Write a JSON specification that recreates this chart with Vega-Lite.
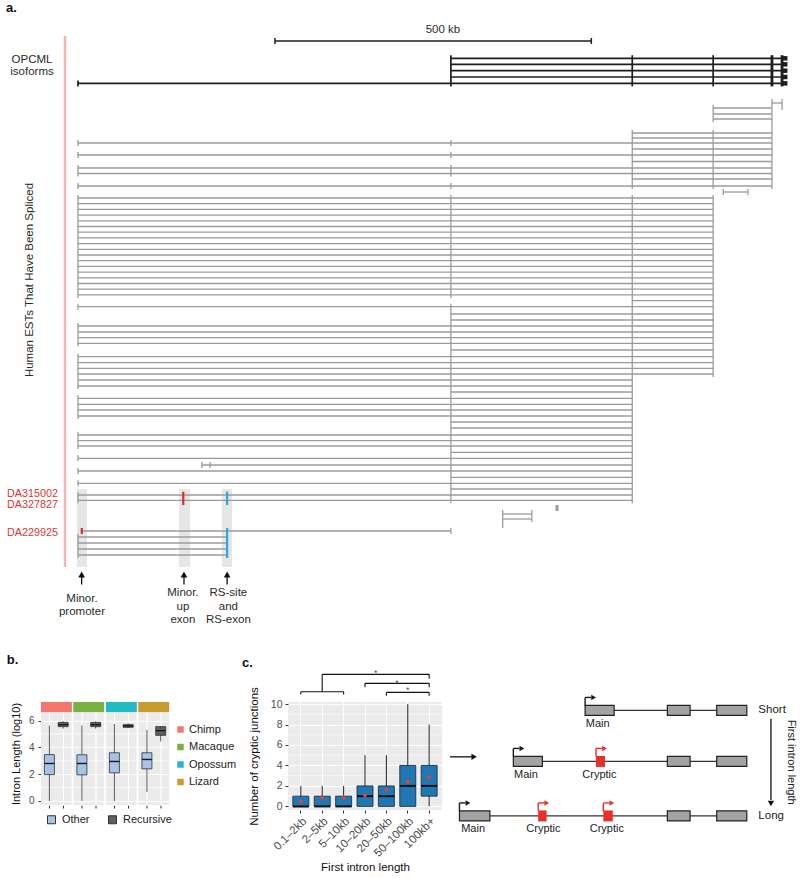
{
 "$schema": "https://vega.github.io/schema/vega-lite/v6.json",
 "padding": 0,
 "background": "#ffffff",
 "bounds": "flush",
 "spacing": 0,
 "config": {"font": "Liberation Sans", "view": {"stroke": null}},
 "resolve": {"scale": {"color": "independent", "fill": "independent"}, "legend": {"color": "independent", "fill": "independent"}},
 "datasets": {
  "shade": [{"x": -1.6, "x2": 14.2, "t": 81.5, "t2": 94.5}, {"x": 159.8, "x2": 177.2, "t": 81.5, "t2": 94.5}, {"x": 227.8, "x2": 243.7, "t": 81.5, "t2": 94.5}],
  "pink": [{"x": -20.6, "t": 6, "t2": 94.5}],
  "estH": [
   {"x": 1098, "x2": 1114, "t": 17.17}, {"x": 1005, "x2": 1098, "t": 18.0}, {"x": 1005, "x2": 1098, "t": 19.0}, {"x": 1005, "x2": 1098, "t": 19.83},
   {"x": 877, "x2": 1098, "t": 22.17}, {"x": 877, "x2": 1098, "t": 23.0}, {"x": 0, "x2": 1098, "t": 23.83}, {"x": 877, "x2": 1098, "t": 24.83},
   {"x": 0, "x2": 1098, "t": 25.83}, {"x": 877, "x2": 1098, "t": 26.92}, {"x": 0, "x2": 1098, "t": 28.0}, {"x": 0, "x2": 1098, "t": 28.92},
   {"x": 877, "x2": 1098, "t": 29.83}, {"x": 0, "x2": 1098, "t": 31.0}, {"x": 1021, "x2": 1060, "t": 32.0},
   {"x": 0, "x2": 1005, "t": 33.0}, {"x": 0, "x2": 1005, "t": 33.95}, {"x": 0, "x2": 1005, "t": 34.9}, {"x": 0, "x2": 1005, "t": 35.85},
   {"x": 0, "x2": 1005, "t": 36.8}, {"x": 0, "x2": 1005, "t": 37.75}, {"x": 0, "x2": 1005, "t": 38.7}, {"x": 0, "x2": 1005, "t": 39.65},
   {"x": 0, "x2": 1005, "t": 40.6}, {"x": 0, "x2": 1005, "t": 41.55}, {"x": 0, "x2": 1005, "t": 42.5}, {"x": 0, "x2": 1005, "t": 43.45},
   {"x": 0, "x2": 1005, "t": 44.4}, {"x": 0, "x2": 1005, "t": 45.35}, {"x": 0, "x2": 1005, "t": 46.3}, {"x": 0, "x2": 1005, "t": 47.25},
   {"x": 0, "x2": 1005, "t": 48.2}, {"x": 0, "x2": 1005, "t": 49.15},
   {"x": 877, "x2": 1005, "t": 50.12}, {"x": 0, "x2": 1005, "t": 51.12}, {"x": 590, "x2": 1005, "t": 52.33}, {"x": 590, "x2": 1005, "t": 53.33},
   {"x": 0, "x2": 1005, "t": 54.33}, {"x": 0, "x2": 1005, "t": 55.33}, {"x": 0, "x2": 1005, "t": 56.28}, {"x": 0, "x2": 1005, "t": 57.22},
   {"x": 590, "x2": 1005, "t": 58.33},
   {"x": 0, "x2": 1005, "t": 59.45}, {"x": 0, "x2": 1005, "t": 60.45}, {"x": 0, "x2": 1005, "t": 61.38}, {"x": 0, "x2": 1005, "t": 62.33},
   {"x": 0, "x2": 877, "t": 63.33}, {"x": 0, "x2": 877, "t": 64.33}, {"x": 590, "x2": 877, "t": 65.33},
   {"x": 0, "x2": 877, "t": 66.38}, {"x": 0, "x2": 877, "t": 67.38}, {"x": 0, "x2": 877, "t": 68.33}, {"x": 0, "x2": 877, "t": 69.33},
   {"x": 590, "x2": 877, "t": 70.33}, {"x": 590, "x2": 877, "t": 71.33},
   {"x": 0, "x2": 877, "t": 72.5}, {"x": 0, "x2": 877, "t": 73.45}, {"x": 0, "x2": 877, "t": 74.33},
   {"x": 590, "x2": 877, "t": 75.38}, {"x": 0, "x2": 877, "t": 76.38}, {"x": 196, "x2": 877, "t": 77.5}, {"x": 0, "x2": 877, "t": 78.5},
   {"x": 590, "x2": 877, "t": 79.55}, {"x": 0, "x2": 877, "t": 80.55}, {"x": 590, "x2": 877, "t": 81.5},
   {"x": 0, "x2": 877, "t": 82.5}, {"x": 0, "x2": 877, "t": 83.38},
   {"x": 672, "x2": 718, "t": 85.67}, {"x": 672, "x2": 718, "t": 86.5},
   {"x": 6, "x2": 590, "t": 88.5},
   {"x": 0, "x2": 236, "t": 89.5}, {"x": 0, "x2": 236, "t": 90.5}, {"x": 0, "x2": 236, "t": 91.5}, {"x": 0, "x2": 236, "t": 92.5}
  ],
  "estV": [
   {"x": 0, "t": 23.33, "t2": 24.33}, {"x": 0, "t": 25.33, "t2": 26.33}, {"x": 0, "t": 27.5, "t2": 29.42}, {"x": 0, "t": 30.5, "t2": 31.5},
   {"x": 0, "t": 32.5, "t2": 49.65}, {"x": 0, "t": 50.62, "t2": 51.62}, {"x": 0, "t": 53.83, "t2": 57.72}, {"x": 0, "t": 58.95, "t2": 64.83},
   {"x": 0, "t": 65.88, "t2": 69.83}, {"x": 0, "t": 72.0, "t2": 74.83}, {"x": 0, "t": 75.88, "t2": 76.88}, {"x": 0, "t": 78.0, "t2": 79.0},
   {"x": 0, "t": 80.05, "t2": 81.05}, {"x": 0, "t": 82.0, "t2": 83.88}, {"x": 0, "t": 89.0, "t2": 93.0},
   {"x": 590, "t": 23.33, "t2": 24.33}, {"x": 590, "t": 25.33, "t2": 26.33}, {"x": 590, "t": 27.5, "t2": 29.42}, {"x": 590, "t": 30.5, "t2": 31.5},
   {"x": 590, "t": 32.5, "t2": 49.65}, {"x": 590, "t": 50.62, "t2": 83.88}, {"x": 590, "t": 88.0, "t2": 89.0},
   {"x": 877, "t": 21.67, "t2": 31.5}, {"x": 877, "t": 32.5, "t2": 83.88},
   {"x": 1005, "t": 17.5, "t2": 20.33}, {"x": 1005, "t": 21.67, "t2": 31.5}, {"x": 1005, "t": 32.5, "t2": 62.83},
   {"x": 1098, "t": 16.5, "t2": 31.5}, {"x": 1114, "t": 16.5, "t2": 18.33},
   {"x": 1021, "t": 31.5, "t2": 32.5}, {"x": 1060, "t": 31.5, "t2": 32.5},
   {"x": 196, "t": 77.0, "t2": 78.0}, {"x": 209, "t": 77.0, "t2": 78.0},
   {"x": 672, "t": 85.0, "t2": 88.0}, {"x": 718, "t": 85.0, "t2": 87.0}
  ],
  "block": [{"x": 758, "t": 84.17, "t2": 85.17}],
  "tickRed": [{"x": 6, "t": 88.0, "t2": 89.0}, {"x": 166.6, "t": 81.95, "t2": 84.17}],
  "tickBlue": [{"x": 236, "t": 81.95, "t2": 84.17}, {"x": 236, "t": 88.0, "t2": 93.0}],
  "isoH": [
   {"x": 590, "x2": 1119, "t": 9.72}, {"x": 590, "x2": 1119, "t": 10.72}, {"x": 590, "x2": 1119, "t": 11.78},
   {"x": 590, "x2": 1119, "t": 12.83}, {"x": 0, "x2": 1119, "t": 13.89}
  ],
  "isoV": [{"x": 0, "t": 13.4, "t2": 14.4}, {"x": 590, "t": 9.2, "t2": 14.4}, {"x": 877, "t": 9.2, "t2": 14.4}, {"x": 1005, "t": 9.2, "t2": 14.4}],
  "isoVthick": [{"x": 1098, "t": 9.2, "t2": 14.4}, {"x": 1114, "t": 9.2, "t2": 14.4}],
  "isoEnd": [{"x": 1119, "t": 9.72}, {"x": 1119, "t": 10.72}, {"x": 1119, "t": 11.78}, {"x": 1119, "t": 12.83}, {"x": 1119, "t": 13.89}],
  "scaleH": [{"x": 311.7, "x2": 812.2, "t": 6.83}],
  "scaleV": [{"x": 311.7, "t": 6.33, "t2": 7.33}, {"x": 812.2, "t": 6.33, "t2": 7.33}],
  "arrowShaft": [{"x": 5.8, "t": 96.1, "t2": 97.4}, {"x": 167.7, "t": 96.1, "t2": 97.4}, {"x": 236, "t": 96.1, "t2": 97.4}],
  "arrowHead": [{"x": 5.8, "t": 95.75}, {"x": 167.7, "t": 95.75}, {"x": 236, "t": 95.75}],
  "txtBold": [{"x": -114, "t": 1.25, "label": "a."}, {"x": -112.8, "t": 110, "label": "b."}, {"x": 259.5, "t": 110.55, "label": "c."}],
  "txtCenter": [
   {"x": -72.8, "t": 10, "label": "OPCML"}, {"x": -72.8, "t": 12, "label": "isoforms"}, {"x": 577.5, "t": 5, "label": "500 kb"},
   {"x": 6.3, "t": 99.83, "label": "Minor."}, {"x": 6.3, "t": 102.05, "label": "promoter"},
   {"x": 166, "t": 98.9, "label": "Minor."}, {"x": 166, "t": 101.1, "label": "up"}, {"x": 166, "t": 103.3, "label": "exon"},
   {"x": 238, "t": 98.9, "label": "RS-site"}, {"x": 238, "t": 101.1, "label": "and"}, {"x": 238, "t": 103.3, "label": "RS-exon"}
  ],
  "txtRot": [{"x": -76, "t": 46.67, "label": "Human ESTs That Have Been Spliced"}],
  "txtRed": [{"x": -31.6, "t": 82.25, "label": "DA315002"}, {"x": -31.6, "t": 84.15, "label": "DA327827"}, {"x": -31.6, "t": 88.9, "label": "DA229925"}],
  "boxB": [
   {"sp": "Chimp", "type": "Other", "lo": 0, "q1": 1.97, "med": 2.8, "q3": 3.46, "hi": 5.63},
   {"sp": "Chimp", "type": "Recursive", "lo": 5.4, "q1": 5.55, "med": 5.7, "q3": 5.87, "hi": 5.95},
   {"sp": "Macaque", "type": "Other", "lo": 0, "q1": 1.95, "med": 2.8, "q3": 3.45, "hi": 5.63},
   {"sp": "Macaque", "type": "Recursive", "lo": 5.4, "q1": 5.55, "med": 5.7, "q3": 5.87, "hi": 5.95},
   {"sp": "Opossum", "type": "Other", "lo": 0, "q1": 2.1, "med": 2.95, "q3": 3.6, "hi": 5.75},
   {"sp": "Opossum", "type": "Recursive", "lo": 5.45, "q1": 5.5, "med": 5.6, "q3": 5.7, "hi": 5.8},
   {"sp": "Lizard", "type": "Other", "lo": 0.68, "q1": 2.4, "med": 3.1, "q3": 3.6, "hi": 5.3},
   {"sp": "Lizard", "type": "Recursive", "lo": 4.45, "q1": 4.9, "med": 5.25, "q3": 5.55, "hi": 5.6}
  ],
  "minorC": [{"y": 1}, {"y": 3}, {"y": 5}, {"y": 7}, {"y": 9}],
  "boxC": [
   {"cat": "0.1–2kb", "lo": 0, "q1": 0, "med": 0, "q3": 1, "hi": 2, "mean": 0.48},
   {"cat": "2–5kb", "lo": 0, "q1": 0, "med": 0, "q3": 1, "hi": 2, "mean": 0.85},
   {"cat": "5–10kb", "lo": 0, "q1": 0, "med": 0, "q3": 1, "hi": 2, "mean": 0.85},
   {"cat": "10–20kb", "lo": 0, "q1": 0, "med": 1, "q3": 2, "hi": 5, "mean": 1.07},
   {"cat": "20–50kb", "lo": 0, "q1": 0, "med": 1, "q3": 2, "hi": 5, "mean": 1.62},
   {"cat": "50–100kb", "lo": 0, "q1": 0, "med": 2, "q3": 4, "hi": 10, "mean": 2.43},
   {"cat": "100kb+", "lo": 0, "q1": 1, "med": 2, "q3": 4, "hi": 8, "mean": 2.86}
  ],
  "brH": [
   {"a": "0.1–2kb", "b": "5–10kb", "y": 11.2}, {"a": "2–5kb", "b": "100kb+", "y": 12.9},
   {"a": "10–20kb", "b": "100kb+", "y": 12.02}, {"a": "20–50kb", "b": "100kb+", "y": 11.14}
  ],
  "brV": [
   {"c": "0.1–2kb", "y": 11.2, "y2": 10.93}, {"c": "5–10kb", "y": 11.2, "y2": 10.93}, {"c": "2–5kb", "y": 11.2, "y2": 12.9},
   {"c": "100kb+", "y": 12.9, "y2": 12.47}, {"c": "10–20kb", "y": 12.02, "y2": 11.65}, {"c": "100kb+", "y": 12.02, "y2": 11.65},
   {"c": "20–50kb", "y": 11.14, "y2": 10.8}, {"c": "100kb+", "y": 11.14, "y2": 10.8}
  ],
  "starsMid": [{"c": "10–20kb", "y": 12.74}, {"c": "20–50kb", "y": 11.77}],
  "starsOn": [{"c": "50–100kb", "y": 11.05}],
  "dgLine": [{"x": 38.6, "x2": 84.8, "lane": 1}, {"x": 18.1, "x2": 84.8, "lane": 1.967}, {"x": 2.7, "x2": 84.8, "lane": 3}],
  "dgGray": [
   {"x": 38.6, "x2": 46.9, "lane": 1}, {"x": 62.1, "x2": 68.6, "lane": 1}, {"x": 76.2, "x2": 84.8, "lane": 1},
   {"x": 18.1, "x2": 26.4, "lane": 1.967}, {"x": 62.1, "x2": 68.6, "lane": 1.967}, {"x": 76.2, "x2": 84.8, "lane": 1.967},
   {"x": 2.7, "x2": 11.4, "lane": 3}, {"x": 62.1, "x2": 68.6, "lane": 3}, {"x": 76.2, "x2": 84.8, "lane": 3}
  ],
  "dgRed": [{"x": 41.7, "x2": 44.3, "lane": 1.967}, {"x": 25.2, "x2": 27.6, "lane": 3}, {"x": 43.8, "x2": 46.5, "lane": 3}],
  "dgPromMain": [{"x": 38.6, "lane": 1}, {"x": 18.1, "lane": 1.967}, {"x": 2.7, "lane": 3}],
  "dgPromCryp": [{"x": 41.7, "lane": 1.967}, {"x": 25.2, "lane": 3}, {"x": 43.8, "lane": 3}],
  "dgLab": [
   {"x": 42.2, "lane": 1, "label": "Main"}, {"x": 21.7, "lane": 1.967, "label": "Main"}, {"x": 42.7, "lane": 1.967, "label": "Cryptic"},
   {"x": 6.6, "lane": 3, "label": "Main"}, {"x": 26.7, "lane": 3, "label": "Cryptic"}, {"x": 44.8, "lane": 3, "label": "Cryptic"}
  ],
  "dgSide": [{"x": 88.1, "lane": 1, "label": "Short"}, {"x": 88.1, "lane": 3, "label": "Long"}],
  "dgRot": [{"x": 97.5, "lane": 1.98, "label": "First intron length"}],
  "dgArrH": [{"x": 0, "x2": 6.3, "lane": 1.88}],
  "dgHeadR": [{"x": 6.9, "lane": 1.88}],
  "dgArrV": [{"x": 91.7, "lane": 1.16, "lane2": 2.7}],
  "dgHeadD": [{"x": 91.7, "lane": 2.764}]
 },
 "vconcat": [
  {
   "width": 800,
   "height": 702,
   "layer": [
    {"data": {"name": "shade"}, "mark": {"type": "rect", "fill": "#e6e6e6"},
     "encoding": {"x": {"field": "x", "type": "quantitative", "scale": {"domain": [-123.4, 1142.4], "nice": false, "zero": false}, "axis": null}, "x2": {"field": "x2"},
      "y": {"field": "t", "type": "quantitative", "scale": {"domain": [0, 117], "nice": false, "zero": false, "reverse": true}, "axis": null}, "y2": {"field": "t2"}}},
    {"data": {"name": "pink"}, "mark": {"type": "rule", "stroke": "#f5b2b2", "strokeWidth": 2.5},
     "encoding": {"x": {"field": "x", "type": "quantitative"}, "y": {"field": "t", "type": "quantitative"}, "y2": {"field": "t2"}}},
    {"data": {"name": "estH"}, "mark": {"type": "rule", "stroke": "#9b9b9b", "strokeWidth": 1.3},
     "encoding": {"x": {"field": "x", "type": "quantitative"}, "x2": {"field": "x2"}, "y": {"field": "t", "type": "quantitative"}}},
    {"data": {"name": "estV"}, "mark": {"type": "rule", "stroke": "#9b9b9b", "strokeWidth": 1.3},
     "encoding": {"x": {"field": "x", "type": "quantitative"}, "y": {"field": "t", "type": "quantitative"}, "y2": {"field": "t2"}}},
    {"data": {"name": "block"}, "mark": {"type": "rule", "stroke": "#9b9b9b", "strokeWidth": 3},
     "encoding": {"x": {"field": "x", "type": "quantitative"}, "y": {"field": "t", "type": "quantitative"}, "y2": {"field": "t2"}}},
    {"data": {"name": "tickRed"}, "mark": {"type": "rule", "stroke": "#d12f2f", "strokeWidth": 2.2},
     "encoding": {"x": {"field": "x", "type": "quantitative"}, "y": {"field": "t", "type": "quantitative"}, "y2": {"field": "t2"}}},
    {"data": {"name": "tickBlue"}, "mark": {"type": "rule", "stroke": "#2aa8df", "strokeWidth": 2.2},
     "encoding": {"x": {"field": "x", "type": "quantitative"}, "y": {"field": "t", "type": "quantitative"}, "y2": {"field": "t2"}}},
    {"data": {"name": "isoH"}, "mark": {"type": "rule", "stroke": "#1e1e1e", "strokeWidth": 1.7},
     "encoding": {"x": {"field": "x", "type": "quantitative"}, "x2": {"field": "x2"}, "y": {"field": "t", "type": "quantitative"}}},
    {"data": {"name": "isoV"}, "mark": {"type": "rule", "stroke": "#1e1e1e", "strokeWidth": 1.7},
     "encoding": {"x": {"field": "x", "type": "quantitative"}, "y": {"field": "t", "type": "quantitative"}, "y2": {"field": "t2"}}},
    {"data": {"name": "isoVthick"}, "mark": {"type": "rule", "stroke": "#1e1e1e", "strokeWidth": 2.8},
     "encoding": {"x": {"field": "x", "type": "quantitative"}, "y": {"field": "t", "type": "quantitative"}, "y2": {"field": "t2"}}},
    {"data": {"name": "isoEnd"}, "mark": {"type": "point", "shape": "square", "filled": true, "size": 20, "color": "#1e1e1e", "opacity": 1},
     "encoding": {"x": {"field": "x", "type": "quantitative"}, "y": {"field": "t", "type": "quantitative"}}},
    {"data": {"name": "scaleH"}, "mark": {"type": "rule", "stroke": "#1e1e1e", "strokeWidth": 1.5},
     "encoding": {"x": {"field": "x", "type": "quantitative"}, "x2": {"field": "x2"}, "y": {"field": "t", "type": "quantitative"}}},
    {"data": {"name": "scaleV"}, "mark": {"type": "rule", "stroke": "#1e1e1e", "strokeWidth": 1.5},
     "encoding": {"x": {"field": "x", "type": "quantitative"}, "y": {"field": "t", "type": "quantitative"}, "y2": {"field": "t2"}}},
    {"data": {"name": "arrowShaft"}, "mark": {"type": "rule", "stroke": "#111111", "strokeWidth": 1.3},
     "encoding": {"x": {"field": "x", "type": "quantitative"}, "y": {"field": "t", "type": "quantitative"}, "y2": {"field": "t2"}}},
    {"data": {"name": "arrowHead"}, "mark": {"type": "point", "shape": "triangle-up", "filled": true, "size": 45, "color": "#111111", "opacity": 1},
     "encoding": {"x": {"field": "x", "type": "quantitative"}, "y": {"field": "t", "type": "quantitative"}}},
    {"data": {"name": "txtBold"}, "mark": {"type": "text", "fontWeight": "bold", "fontSize": 13, "align": "left", "baseline": "middle", "color": "#111111"},
     "encoding": {"x": {"field": "x", "type": "quantitative"}, "y": {"field": "t", "type": "quantitative"}, "text": {"field": "label"}}},
    {"data": {"name": "txtCenter"}, "mark": {"type": "text", "fontSize": 11.5, "align": "center", "baseline": "middle", "color": "#2a2a2a"},
     "encoding": {"x": {"field": "x", "type": "quantitative"}, "y": {"field": "t", "type": "quantitative"}, "text": {"field": "label"}}},
    {"data": {"name": "txtRot"}, "mark": {"type": "text", "fontSize": 11.5, "align": "center", "baseline": "middle", "angle": 270, "color": "#2a2a2a"},
     "encoding": {"x": {"field": "x", "type": "quantitative"}, "y": {"field": "t", "type": "quantitative"}, "text": {"field": "label"}}},
    {"data": {"name": "txtRed"}, "mark": {"type": "text", "fontSize": 10.8, "align": "right", "baseline": "middle", "color": "#d63a36"},
     "encoding": {"x": {"field": "x", "type": "quantitative"}, "y": {"field": "t", "type": "quantitative"}, "text": {"field": "label"}}}
   ]
  },
  {
   "spacing": 0,
   "bounds": "flush",
   "resolve": {"scale": {"color": "independent", "fill": "independent"}, "legend": {"color": "independent", "fill": "independent"}},
   "hconcat": [
    {"width": 41, "height": 10, "data": {"values": []}, "mark": "point", "encoding": {}},
    {
     "data": {"name": "boxB"},
     "facet": {"column": {"field": "sp", "type": "nominal", "sort": ["Chimp", "Macaque", "Opossum", "Lizard"], "header": {"title": null, "labels": false}}},
     "spacing": 1.5,
     "bounds": "flush",
     "spec": {
      "width": 30.6,
      "height": 103,
      "view": {"fill": "#ebebeb", "stroke": null},
      "layer": [
       {"mark": {"type": "rect"},
        "encoding": {
         "y": {"datum": 6.64, "type": "quantitative", "scale": {"domain": [-0.3, 7.39], "nice": false, "zero": false}, "title": "Intron Length (log10)"},
         "y2": {"datum": 7.39},
         "color": {"field": "sp", "type": "nominal", "scale": {"domain": ["Chimp", "Macaque", "Opossum", "Lizard"], "range": ["#f4766c", "#77b243", "#22b9c3", "#c99a2e"]},
          "legend": {"orient": "none", "legendX": 134, "legendY": 22, "title": null, "symbolType": "square", "symbolSize": 42, "symbolStrokeWidth": 0, "labelFontSize": 11, "labelColor": "#222222", "rowPadding": 5.5, "padding": 0, "labelOffset": 3}}
        }},
       {"mark": {"type": "rule", "color": "#ffffff", "strokeWidth": 0.5},
        "encoding": {"y": {"datum": 1, "type": "quantitative", "title": "Intron Length (log10)"}}},
       {"mark": {"type": "rule", "color": "#ffffff", "strokeWidth": 0.5},
        "encoding": {"y": {"datum": 3, "type": "quantitative", "title": "Intron Length (log10)"}}},
       {"mark": {"type": "rule", "color": "#ffffff", "strokeWidth": 0.5},
        "encoding": {"y": {"datum": 5, "type": "quantitative", "title": "Intron Length (log10)"}}},
       {"mark": {"type": "rule", "color": "#333333", "strokeWidth": 0.8},
        "encoding": {
         "x": {"field": "type", "type": "nominal", "sort": ["Other", "Recursive"], "scale": {"paddingInner": 0, "paddingOuter": 0.111},
          "axis": {"title": null, "labels": false, "ticks": true, "tickSize": 3, "tickColor": "#333333", "domain": false, "grid": true, "gridColor": "#ffffff", "gridWidth": 1.1}},
         "y": {"field": "lo", "type": "quantitative", "scale": {"domain": [-0.3, 7.39], "nice": false, "zero": false}, "title": "Intron Length (log10)",
          "axis": {"values": [0, 2, 4, 6], "tickCount": 20, "format": "d", "labelOverlap": false,
           "gridColor": "#ffffff", "gridWidth": 1.1, "grid": true, "domain": false, "tickSize": 3, "tickColor": "#333333", "labelColor": "#4d4d4d", "labelFontSize": 10, "labelPadding": 4,
           "titleFontSize": 11, "titleFontWeight": "normal", "titleColor": "#111111", "titlePadding": 7}},
         "y2": {"field": "hi"}
        }},
       {"mark": {"type": "bar", "size": 10, "stroke": "#333333", "strokeWidth": 0.8},
        "encoding": {
         "x": {"field": "type", "type": "nominal", "sort": ["Other", "Recursive"]},
         "y": {"field": "q1", "type": "quantitative", "title": "Intron Length (log10)"},
         "y2": {"field": "q3"},
         "fill": {"field": "type", "type": "nominal", "scale": {"domain": ["Other", "Recursive"], "range": ["#a8c3e6", "#5e5e5e"]},
          "legend": {"orient": "none", "legendX": 5, "legendY": 112, "direction": "horizontal", "title": null, "symbolType": "square", "symbolSize": 64, "symbolStrokeColor": "#333333", "symbolStrokeWidth": 1, "labelFontSize": 11, "labelColor": "#222222", "columnPadding": 16, "padding": 0, "labelOffset": 5}}
        }},
       {"mark": {"type": "tick", "orient": "horizontal", "size": 10, "thickness": 1.4, "color": "#1a1a1a", "opacity": 1},
        "encoding": {
         "x": {"field": "type", "type": "nominal", "sort": ["Other", "Recursive"]},
         "y": {"field": "med", "type": "quantitative", "title": "Intron Length (log10)"}
        }}
      ]
     }
    },
    {"width": 247, "height": 10, "data": {"values": []}, "mark": "point", "encoding": {}},
    {
     "width": 154,
     "height": 108,
     "view": {"fill": "#ebebeb", "stroke": null},
     "layer": [
      {"data": {"name": "minorC"}, "mark": {"type": "rule", "color": "#ffffff", "strokeWidth": 0.5},
       "encoding": {
        "y": {"field": "y", "type": "quantitative", "scale": {"domain": [-0.35, 10.2], "nice": false, "zero": false}, "title": "Number of cryptic junctions",
         "axis": {"values": [0, 2, 4, 6, 8, 10], "tickCount": 20, "format": "d", "labelOverlap": false,
          "gridColor": "#ffffff", "gridWidth": 1.1, "grid": true, "domain": false, "tickSize": 3, "tickColor": "#333333", "labelColor": "#4d4d4d", "labelFontSize": 10.5, "labelPadding": 3,
          "titleFontSize": 11.5, "titleFontWeight": "normal", "titleColor": "#111111", "titlePadding": 11}}
       }},
      {"data": {"name": "boxC"}, "mark": {"type": "rule", "color": "#222222", "strokeWidth": 1},
       "encoding": {
        "x": {"field": "cat", "type": "nominal", "scale": {"domain": ["0.1–2kb", "2–5kb", "5–10kb", "10–20kb", "20–50kb", "50–100kb", "100kb+"], "paddingInner": 0, "paddingOuter": 0.1},
         "title": "First intron length",
         "axis": {"labelAngle": -45, "labelFontSize": 11.5, "labelColor": "#4d4d4d", "labelOverlap": false, "tickColor": "#333333", "tickSize": 3, "domain": false, "grid": true, "gridColor": "#ffffff", "gridWidth": 1.1,
          "titleFontSize": 11.5, "titleFontWeight": "normal", "titleColor": "#111111", "titlePadding": 3, "labelPadding": 2}},
        "y": {"field": "lo", "type": "quantitative", "title": "Number of cryptic junctions"},
        "y2": {"field": "hi"}
       }},
      {"data": {"name": "boxC"}, "mark": {"type": "bar", "size": 16, "fill": "#1f77b4", "stroke": "#1b2430", "strokeWidth": 0.8},
       "encoding": {
        "x": {"field": "cat", "type": "nominal", "title": "First intron length"},
        "y": {"field": "q1", "type": "quantitative", "title": "Number of cryptic junctions"},
        "y2": {"field": "q3"}
       }},
      {"data": {"name": "boxC"}, "mark": {"type": "tick", "orient": "horizontal", "size": 16, "thickness": 2, "color": "#111111", "opacity": 1},
       "encoding": {
        "x": {"field": "cat", "type": "nominal", "title": "First intron length"},
        "y": {"field": "med", "type": "quantitative", "title": "Number of cryptic junctions"}
       }},
      {"data": {"name": "boxC"}, "mark": {"type": "point", "shape": "diamond", "filled": true, "size": 24, "color": "#e8413a", "opacity": 1},
       "encoding": {
        "x": {"field": "cat", "type": "nominal", "title": "First intron length"},
        "y": {"field": "mean", "type": "quantitative", "title": "Number of cryptic junctions"}
       }},
      {"data": {"name": "brH"}, "mark": {"type": "rule", "color": "#111111", "strokeWidth": 1.1},
       "encoding": {
        "x": {"field": "a", "type": "nominal", "title": "First intron length"},
        "x2": {"field": "b"},
        "y": {"field": "y", "type": "quantitative", "title": "Number of cryptic junctions"}
       }},
      {"data": {"name": "brV"}, "mark": {"type": "rule", "color": "#111111", "strokeWidth": 1.1},
       "encoding": {
        "x": {"field": "c", "type": "nominal", "title": "First intron length"},
        "y": {"field": "y", "type": "quantitative", "title": "Number of cryptic junctions"},
        "y2": {"field": "y2"}
       }},
      {"data": {"name": "starsMid"}, "mark": {"type": "text", "text": "*", "fontSize": 9, "dx": 10.7, "baseline": "alphabetic", "align": "center", "color": "#555555"},
       "encoding": {
        "x": {"field": "c", "type": "nominal", "title": "First intron length"},
        "y": {"field": "y", "type": "quantitative", "title": "Number of cryptic junctions"}
       }},
      {"data": {"name": "starsOn"}, "mark": {"type": "text", "text": "*", "fontSize": 9, "baseline": "alphabetic", "align": "center", "color": "#555555"},
       "encoding": {
        "x": {"field": "c", "type": "nominal", "title": "First intron length"},
        "y": {"field": "y", "type": "quantitative", "title": "Number of cryptic junctions"}
       }}
     ]
    },
    {"width": 8, "height": 10, "data": {"values": []}, "mark": "point", "encoding": {}},
    {
     "width": 350,
     "height": 130,
     "layer": [
      {"data": {"name": "dgLine"}, "mark": {"type": "rule", "stroke": "#333333", "strokeWidth": 1.3},
       "encoding": {"x": {"field": "x", "type": "quantitative", "scale": {"domain": [0, 100], "nice": false, "zero": false}, "axis": null}, "x2": {"field": "x2"},
        "y": {"field": "lane", "type": "quantitative", "scale": {"domain": [0.935, 3.21], "nice": false, "zero": false, "reverse": true}, "axis": null}}},
      {"data": {"name": "dgGray"}, "mark": {"type": "bar", "size": 10, "fill": "#a3a3a3", "stroke": "#222222", "strokeWidth": 1.2},
       "encoding": {"x": {"field": "x", "type": "quantitative"}, "x2": {"field": "x2"}, "y": {"field": "lane", "type": "quantitative"}}},
      {"data": {"name": "dgRed"}, "mark": {"type": "bar", "size": 11, "fill": "#e8302a"},
       "encoding": {"x": {"field": "x", "type": "quantitative"}, "x2": {"field": "x2"}, "y": {"field": "lane", "type": "quantitative"}}},
      {"data": {"name": "dgPromMain"}, "mark": {"type": "rule", "stroke": "#1a1a1a", "strokeWidth": 1.4, "yOffset": -5, "y2Offset": -13},
       "encoding": {"x": {"field": "x", "type": "quantitative"}, "y": {"field": "lane", "type": "quantitative"}, "y2": {"field": "lane"}}},
      {"data": {"name": "dgPromMain"}, "mark": {"type": "rule", "stroke": "#1a1a1a", "strokeWidth": 1.4, "yOffset": -13, "x2Offset": 6},
       "encoding": {"x": {"field": "x", "type": "quantitative"}, "x2": {"field": "x"}, "y": {"field": "lane", "type": "quantitative"}}},
      {"data": {"name": "dgPromMain"}, "mark": {"type": "point", "shape": "triangle-right", "filled": true, "size": 30, "opacity": 1, "color": "#1a1a1a", "xOffset": 8.5, "yOffset": -13},
       "encoding": {"x": {"field": "x", "type": "quantitative"}, "y": {"field": "lane", "type": "quantitative"}}},
      {"data": {"name": "dgPromCryp"}, "mark": {"type": "rule", "stroke": "#e8302a", "strokeWidth": 1.4, "yOffset": -5, "y2Offset": -13},
       "encoding": {"x": {"field": "x", "type": "quantitative"}, "y": {"field": "lane", "type": "quantitative"}, "y2": {"field": "lane"}}},
      {"data": {"name": "dgPromCryp"}, "mark": {"type": "rule", "stroke": "#e8302a", "strokeWidth": 1.4, "yOffset": -13, "x2Offset": 6},
       "encoding": {"x": {"field": "x", "type": "quantitative"}, "x2": {"field": "x"}, "y": {"field": "lane", "type": "quantitative"}}},
      {"data": {"name": "dgPromCryp"}, "mark": {"type": "point", "shape": "triangle-right", "filled": true, "size": 30, "opacity": 1, "color": "#e8302a", "xOffset": 8.5, "yOffset": -13},
       "encoding": {"x": {"field": "x", "type": "quantitative"}, "y": {"field": "lane", "type": "quantitative"}}},
      {"data": {"name": "dgLab"}, "mark": {"type": "text", "fontSize": 11, "align": "center", "baseline": "middle", "dy": 13.5, "color": "#222222"},
       "encoding": {"x": {"field": "x", "type": "quantitative"}, "y": {"field": "lane", "type": "quantitative"}, "text": {"field": "label"}}},
      {"data": {"name": "dgSide"}, "mark": {"type": "text", "fontSize": 11.5, "align": "left", "baseline": "middle", "color": "#222222"},
       "encoding": {"x": {"field": "x", "type": "quantitative"}, "y": {"field": "lane", "type": "quantitative"}, "text": {"field": "label"}}},
      {"data": {"name": "dgRot"}, "mark": {"type": "text", "fontSize": 11, "align": "center", "baseline": "middle", "angle": 90, "color": "#222222"},
       "encoding": {"x": {"field": "x", "type": "quantitative"}, "y": {"field": "lane", "type": "quantitative"}, "text": {"field": "label"}}},
      {"data": {"name": "dgArrH"}, "mark": {"type": "rule", "stroke": "#111111", "strokeWidth": 1.3},
       "encoding": {"x": {"field": "x", "type": "quantitative"}, "x2": {"field": "x2"}, "y": {"field": "lane", "type": "quantitative"}}},
      {"data": {"name": "dgHeadR"}, "mark": {"type": "point", "shape": "triangle-right", "filled": true, "size": 40, "opacity": 1, "color": "#111111"},
       "encoding": {"x": {"field": "x", "type": "quantitative"}, "y": {"field": "lane", "type": "quantitative"}}},
      {"data": {"name": "dgArrV"}, "mark": {"type": "rule", "stroke": "#111111", "strokeWidth": 1.3},
       "encoding": {"x": {"field": "x", "type": "quantitative"}, "y": {"field": "lane", "type": "quantitative"}, "y2": {"field": "lane2"}}},
      {"data": {"name": "dgHeadD"}, "mark": {"type": "point", "shape": "triangle-down", "filled": true, "size": 40, "opacity": 1, "color": "#111111"},
       "encoding": {"x": {"field": "x", "type": "quantitative"}, "y": {"field": "lane", "type": "quantitative"}}}
     ]
    }
   ]
  }
 ]
}
